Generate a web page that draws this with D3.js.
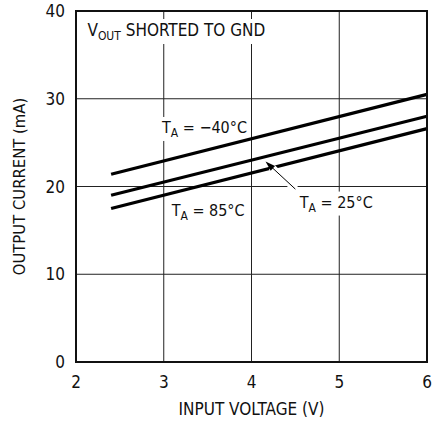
<!DOCTYPE html>
<html>
<head>
<meta charset="utf-8">
<script src="https://cdn.jsdelivr.net/npm/d3@7"></script>
<style>
  body { margin: 0; background: #fff; }
  text { font-family: "Liberation Sans Narrow", "Arial Narrow", "DejaVu Sans Condensed", sans-serif; fill: #111; }
</style>
</head>
<body>
<div id="chart"></div>
<script>
// values
const voltage = [2.4, 6];
const currentM40 = [21.4, 30.5];
const current25 = [19.0, 28.0];
const current85 = [17.5, 26.6];
const xTicks = [2, 3, 4, 5, 6];
const yTicks = [0, 10, 20, 30, 40];

const width = 432, height = 423;
const margin = { top: 11, right: 5, bottom: 61, left: 76 };
const w = width - margin.left - margin.right;
const h = height - margin.top - margin.bottom;

const svg = d3.select('#chart').append('svg')
  .attr('width', width)
  .attr('height', height);

const g = svg.append('g')
  .attr('transform', `translate(${margin.left},${margin.top})`);

const x = d3.scaleLinear().domain([2, 6]).range([0, w]);
const y = d3.scaleLinear().domain([0, 40]).range([h, 0]);

// grid
g.append('g')
  .selectAll('line')
  .data(xTicks.slice(1, -1))
  .join('line')
  .attr('x1', d => x(d)).attr('x2', d => x(d))
  .attr('y1', 0).attr('y2', h)
  .attr('stroke', '#222').attr('stroke-width', 1);

g.append('g')
  .selectAll('line')
  .data(yTicks.slice(1, -1))
  .join('line')
  .attr('y1', d => y(d)).attr('y2', d => y(d))
  .attr('x1', 0).attr('x2', w)
  .attr('stroke', '#222').attr('stroke-width', 1);

// tick labels
g.append('g')
  .selectAll('text')
  .data(yTicks)
  .join('text')
  .attr('x', -11)
  .attr('y', d => y(d))
  .attr('dy', '0.36em')
  .attr('text-anchor', 'end')
  .style('font-size', '17px')
  .text(d => d);

g.append('g')
  .selectAll('text')
  .data(xTicks)
  .join('text')
  .attr('x', d => x(d))
  .attr('y', h + 26)
  .attr('text-anchor', 'middle')
  .style('font-size', '17px')
  .text(d => d);

// axis titles
g.append('text')
  .attr('x', w / 2)
  .attr('y', h + 53)
  .attr('text-anchor', 'middle')
  .style('font-size', '17px')
  .text('INPUT VOLTAGE (V)');

g.append('text')
  .attr('transform', `translate(${-51},${h / 2}) rotate(-90)`)
  .attr('text-anchor', 'middle')
  .style('font-size', '16.5px')
  .text('OUTPUT CURRENT (mA)');

// annotation labels with white backing, kept under the curves
const labelLayer = g.append('g');
function label(px, py, size, main, sub, rest) {
  const t = labelLayer.append('text')
    .attr('x', px).attr('y', py)
    .style('font-size', size + 'px');
  t.append('tspan').text(main);
  if (sub) {
    t.append('tspan').attr('dy', 4).style('font-size', '12px').text(sub);
    t.append('tspan').attr('dy', -4).text(rest);
  }
  const b = t.node().getBBox();
  labelLayer.insert('rect', () => t.node())
    .attr('x', b.x - 3).attr('y', b.y - 1)
    .attr('width', b.width + 6).attr('height', b.height + 2)
    .attr('fill', '#fff');
  return t;
}

label(x(2.13), y(37.15), 17, 'V', 'OUT', ' SHORTED TO GND');
label(x(2.98), y(26.1), 16, 'T', 'A', ' = \u221240\u00b0C');
label(x(3.09), y(16.6), 16, 'T', 'A', ' = 85\u00b0C');
label(x(4.55), y(17.6), 16, 'T', 'A', ' = 25\u00b0C');

// curves
const series = [currentM40, current25, current85];
const line = d3.line()
  .x((d, i) => x(voltage[i]))
  .y(d => y(d));

g.append('g')
  .selectAll('path')
  .data(series)
  .join('path')
  .attr('d', d => line(d))
  .attr('fill', 'none')
  .attr('stroke', '#000')
  .attr('stroke-width', 3.2);

// arrow to 25C curve
const tail = [x(4.5), y(19.7)];
const tip = [x(4.16), y(22.85)];
const ang = Math.atan2(tip[1] - tail[1], tip[0] - tail[0]);
g.append('line')
  .attr('x1', tail[0] - 6 * Math.cos(ang)).attr('y1', tail[1] - 6 * Math.sin(ang))
  .attr('x2', tip[0] - 8 * Math.cos(ang)).attr('y2', tip[1] - 8 * Math.sin(ang))
  .attr('stroke', '#fff').attr('stroke-width', 7);
g.append('line')
  .attr('x1', tail[0]).attr('y1', tail[1])
  .attr('x2', tip[0] - 6 * Math.cos(ang)).attr('y2', tip[1] - 6 * Math.sin(ang))
  .attr('stroke', '#000').attr('stroke-width', 1);
const hl = 10, hw = 3.2;
const bx = tip[0] - hl * Math.cos(ang), by = tip[1] - hl * Math.sin(ang);
g.append('path')
  .attr('d', `M${tip[0]},${tip[1]}L${bx + hw * Math.sin(ang)},${by - hw * Math.cos(ang)}L${bx - hw * Math.sin(ang)},${by + hw * Math.cos(ang)}Z`)
  .attr('fill', '#000');

// frame
g.append('rect')
  .attr('width', w).attr('height', h)
  .attr('fill', 'none')
  .attr('stroke', '#111')
  .attr('stroke-width', 2);
</script>
</body>
</html>
